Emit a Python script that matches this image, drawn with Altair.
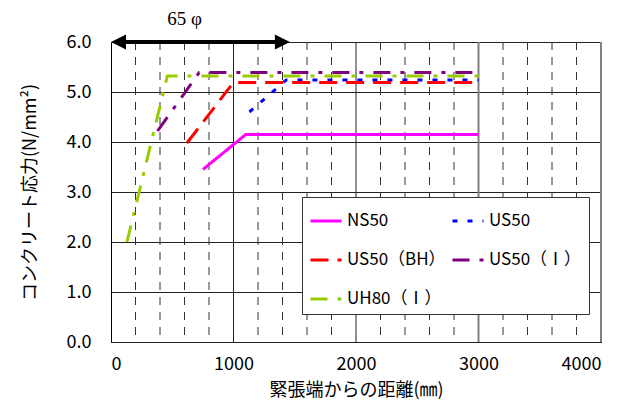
import altair as alt
import pandas as pd

# ---- data ----
series = ["NS50", "US50", "US50（BH）", "US50（Ⅰ）", "UH80（Ⅰ）"]
ns50_x = [750, 1100, 3000]
ns50_y = [3.45, 4.15, 4.15]
us50_x = [1130, 1430, 3000]
us50_y = [4.60, 5.24, 5.24]
us50bh_x = [620, 1000, 3000]
us50bh_y = [3.98, 5.19, 5.19]
us50i_x = [380, 720, 3000]
us50i_y = [4.22, 5.39, 5.39]
uh80i_x = [130, 460, 3000]
uh80i_y = [2.00, 5.32, 5.32]

colors = ["#FF00FF", "#0000FF", "#FF0000", "#800080", "#99CC00"]
dashes = [[1, 0], [5, 10], [18, 9], [17, 10, 4, 10], [17, 10, 4, 10]]

x_ticks = [0, 1000, 2000, 3000, 4000]
y_ticks = [0, 1, 2, 3, 4, 5, 6]
minor_grid_x = [200, 400, 600, 800, 1200, 1400, 1600, 1800,
                2200, 2400, 2600, 2800, 3200, 3400, 3600, 3800]
major_grid_x = [1000, 2000]
gray_grid_x = [3000, 4000]

arrow_start = [0]
arrow_end = [1460]
arrow_level = [6.0]
arrow_label = ["65 φ"]
arrow_label_x = [600]

# ---- tables ----
rows = []
for name, xs, ys in zip(series,
                        [ns50_x, us50_x, us50bh_x, us50i_x, uh80i_x],
                        [ns50_y, us50_y, us50bh_y, us50i_y, uh80i_y]):
    for i, (xv, yv) in enumerate(zip(xs, ys)):
        rows.append({"series": name, "x": xv, "y": yv, "order": i})
df = pd.DataFrame(rows)

arrow_df = pd.DataFrame({"x0": arrow_start, "x1": arrow_end, "y": arrow_level,
                         "lx": arrow_label_x, "label": arrow_label})

JP = "Noto Sans CJK JP"

xscale = alt.Scale(domain=[0, 4000], nice=False)
yscale = alt.Scale(domain=[0, 6], nice=False)

legend = alt.Legend(
    title=None, orient="none", legendX=191, legendY=155, columns=2,
    direction="horizontal",
    symbolType="stroke", symbolSize=961, symbolStrokeWidth=3,
    labelFont=JP, labelFontSize=17, labelColor="black", labelLimit=200,
    strokeColor="#333333", fillColor="white", padding=7, rowPadding=14,
    columnPadding=0, labelOffset=4,
)

x_axis = alt.Axis(
    values=x_ticks, format="d", labelOverlap=False,
    title="緊張端からの距離(㎜)", titleY=48, titleBaseline="middle",
    grid=False, ticks=False, domain=False, labelPadding=13,
)

y_axis = alt.Axis(
    values=y_ticks, format=".1f", labelOverlap=False,
    title="コンクリート応力(N/mm²)", titleX=-81, titleY=150, titleAngle=-90,
    titleBaseline="middle", titleAlign="center",
    grid=True, gridColor="#222222", gridWidth=1,
    ticks=False, domain=False, labelPadding=20,
)

# vertical grid lines
minor = alt.Chart(pd.DataFrame({"x": minor_grid_x})).mark_rule(
    color="#333333", strokeWidth=1, strokeDash=[8, 7]).encode(
    x=alt.X("x:Q", scale=xscale, axis=x_axis))
major = alt.Chart(pd.DataFrame({"x": major_grid_x})).mark_rule(
    color="#222222", strokeWidth=1).encode(x=alt.X("x:Q", scale=xscale))
grayg = alt.Chart(pd.DataFrame({"x": gray_grid_x})).mark_rule(
    color="#808080", strokeWidth=2).encode(x=alt.X("x:Q", scale=xscale))

lines = alt.Chart(df).mark_line(strokeWidth=3, strokeCap="butt").encode(
    x=alt.X("x:Q", scale=xscale, axis=x_axis),
    y=alt.Y("y:Q", scale=yscale, axis=y_axis),
    color=alt.Color("series:N", scale=alt.Scale(domain=series, range=colors),
                    sort=series, legend=legend),
    strokeDash=alt.StrokeDash("series:N", scale=alt.Scale(domain=series, range=dashes),
                              sort=series, legend=legend),
    order="order:Q",
)

base = alt.Chart(arrow_df)
shaft = base.mark_rule(color="black", strokeWidth=4, xOffset=10, x2Offset=-10).encode(
    x=alt.X("x0:Q", scale=xscale), x2="x1:Q", y=alt.Y("y:Q", scale=yscale),
)
head_l = base.mark_point(shape="M 2 -1 L 0 0 L 2 1 Z", size=225, filled=True,
                         color="black", opacity=1, strokeWidth=0).encode(
    x=alt.X("x0:Q", scale=xscale), y=alt.Y("y:Q", scale=yscale))
head_r = base.mark_point(shape="M -2 -1 L 0 0 L -2 1 Z", size=225, filled=True,
                         color="black", opacity=1, strokeWidth=0).encode(
    x=alt.X("x1:Q", scale=xscale), y=alt.Y("y:Q", scale=yscale))
label = base.mark_text(font="Liberation Serif", fontSize=19, color="black",
                       baseline="alphabetic", dy=-17, align="center").encode(
    x=alt.X("lx:Q", scale=xscale), y=alt.Y("y:Q", scale=yscale), text="label:N")

chart = alt.layer(minor, major, grayg, lines, shaft, head_l, head_r, label).properties(
    width=490, height=300,
    autosize=alt.AutoSizeParams(type="none"),
    padding={"left": 103, "top": 34, "right": 27, "bottom": 61},
).configure_view(stroke="black", strokeWidth=1).configure_axis(
    labelFont=JP, labelFontSize=18, labelColor="black",
    titleFont=JP, titleFontSize=18, titleColor="black", titleFontWeight="normal",
)

chart.save("out.html", embed_options={"renderer": "svg", "actions": False})
